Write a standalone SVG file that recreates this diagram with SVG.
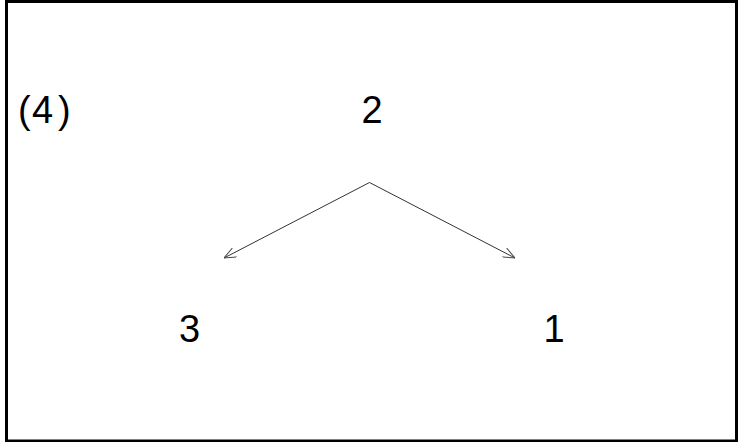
<svg xmlns="http://www.w3.org/2000/svg" width="744" height="442" viewBox="0 0 744 442">
<defs>
<style>
.t{font-family:"Liberation Sans",Arial,sans-serif;font-size:38px;fill:#000}
.c{stroke:#333;stroke-width:1;fill:none}
</style>
<marker id="ah" viewBox="0 0 12 10" refX="12" refY="5" markerWidth="12" markerHeight="10" markerUnits="userSpaceOnUse" orient="auto">
<path d="M0,0 L12,5 L0,10" fill="none" stroke="#444" stroke-width="1"/>
</marker>
</defs>
<rect x="6.5" y="1.5" width="730" height="439.5" fill="#fff" stroke="#000" stroke-width="3"/>
<g id="label"><text class="t" y="123"><tspan x="18">(</tspan><tspan x="32">4</tspan><tspan x="58">)</tspan></text></g>
<g id="n2"><text class="t" x="372" y="123" text-anchor="middle">2</text></g>
<g id="n3"><text class="t" x="189.5" y="342" text-anchor="middle">3</text></g>
<g id="n1"><text class="t" x="554" y="342" text-anchor="middle">1</text></g>
<g id="connectors">
<path class="c" d="M369.5,182.5 L224,258" marker-end="url(#ah)"/>
<path class="c" d="M369.5,182.5 L515,258" marker-end="url(#ah)"/>
</g>
</svg>
